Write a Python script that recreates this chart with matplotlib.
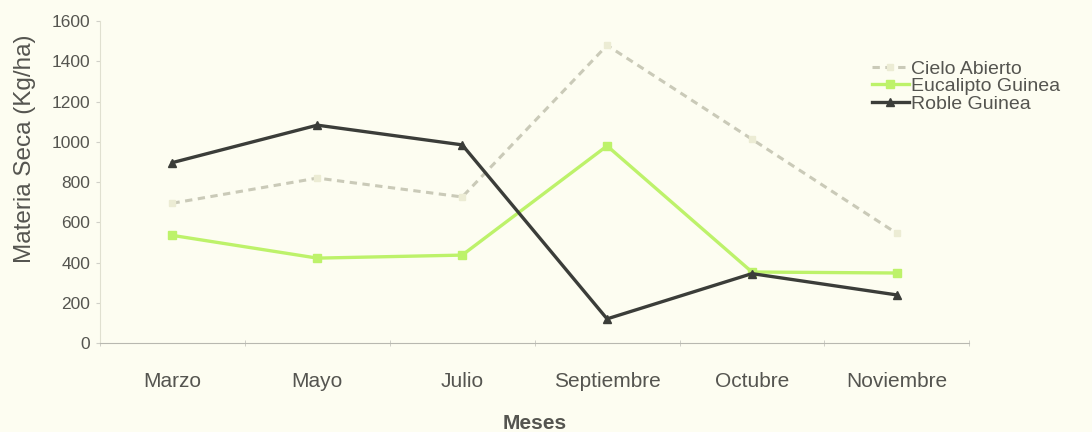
import numpy as np
import matplotlib
matplotlib.use('Agg')
import matplotlib.pyplot as plt
from matplotlib.ticker import FixedLocator

meses = ['Marzo', 'Mayo', 'Julio', 'Septiembre', 'Octubre', 'Noviembre']
cielo_abierto = [695, 820, 726, 1480, 1013, 545]
eucalipto_guinea = [535, 422, 437, 980, 353, 348]
roble_guinea = [897, 1083, 985, 120, 345, 239]
yticks = [0, 200, 400, 600, 800, 1000, 1200, 1400, 1600]

plt.rcParams['font.family'] = ['Liberation Sans', 'DejaVu Sans']
bg = '#fdfdf1'
txt = '#555550'

fig = plt.figure(figsize=(10.92, 4.32), dpi=100, facecolor=bg)
ax = fig.add_axes([0.0916, 0.206, 0.796, 0.745], facecolor=bg)

x = np.arange(len(meses))
ax.plot(x, cielo_abierto, color='#cacab8', lw=2.2, ls=(0, (2.4, 1.8)),
        marker='s', ms=5, mfc='#ececd4', mec='#ececd4', label='Cielo Abierto')
ax.plot(x, eucalipto_guinea, color='#bdf26a', lw=2.4, marker='s', ms=6,
        mec='#bdf26a', label='Eucalipto Guinea')
ax.plot(x, roble_guinea, color='#3b3d39', lw=2.4, marker='^', ms=6,
        label='Roble Guinea')

ax.set_xlim(-0.5, len(meses) - 0.5)
ax.set_ylim(0, 1600)
ax.set_xticks(x)
ax.set_xticklabels(meses, fontsize=15, color=txt)
ax.xaxis.set_minor_locator(FixedLocator(np.arange(-0.5, len(meses), 1.0)))
ax.tick_params(axis='x', which='major', length=0, pad=21)
ax.tick_params(axis='x', which='minor', length=4, direction='inout', color='#c8c8c0')
ax.set_yticks(yticks)
ax.set_yticklabels([str(v) for v in yticks], fontsize=12.5, color=txt)
ax.tick_params(axis='y', length=3, color='#d0d0c8', pad=4)

for s in ['top', 'right']:
    ax.spines[s].set_visible(False)
ax.spines['left'].set_color('#e0e0d0')
ax.spines['bottom'].set_color('#b8b8b0')

ax.set_ylabel('Materia Seca (Kg/ha)', fontsize=17.5, color=txt)
ax.yaxis.set_label_coords(-0.074, 0.605)
ax.set_xlabel('Meses', fontsize=15, fontweight='bold', color=txt)
ax.xaxis.set_label_coords(0.5, -0.22)

leg = fig.legend(loc='upper left', bbox_to_anchor=(872 / 1092, 1 - 60 / 432),
                 frameon=False, fontsize=14, handlelength=1.9, handletextpad=0.1,
                 labelspacing=0.0, borderaxespad=0, borderpad=0)
for t in leg.get_texts():
    t.set_color(txt)

fig.savefig('out.png', dpi=100, facecolor=bg)
